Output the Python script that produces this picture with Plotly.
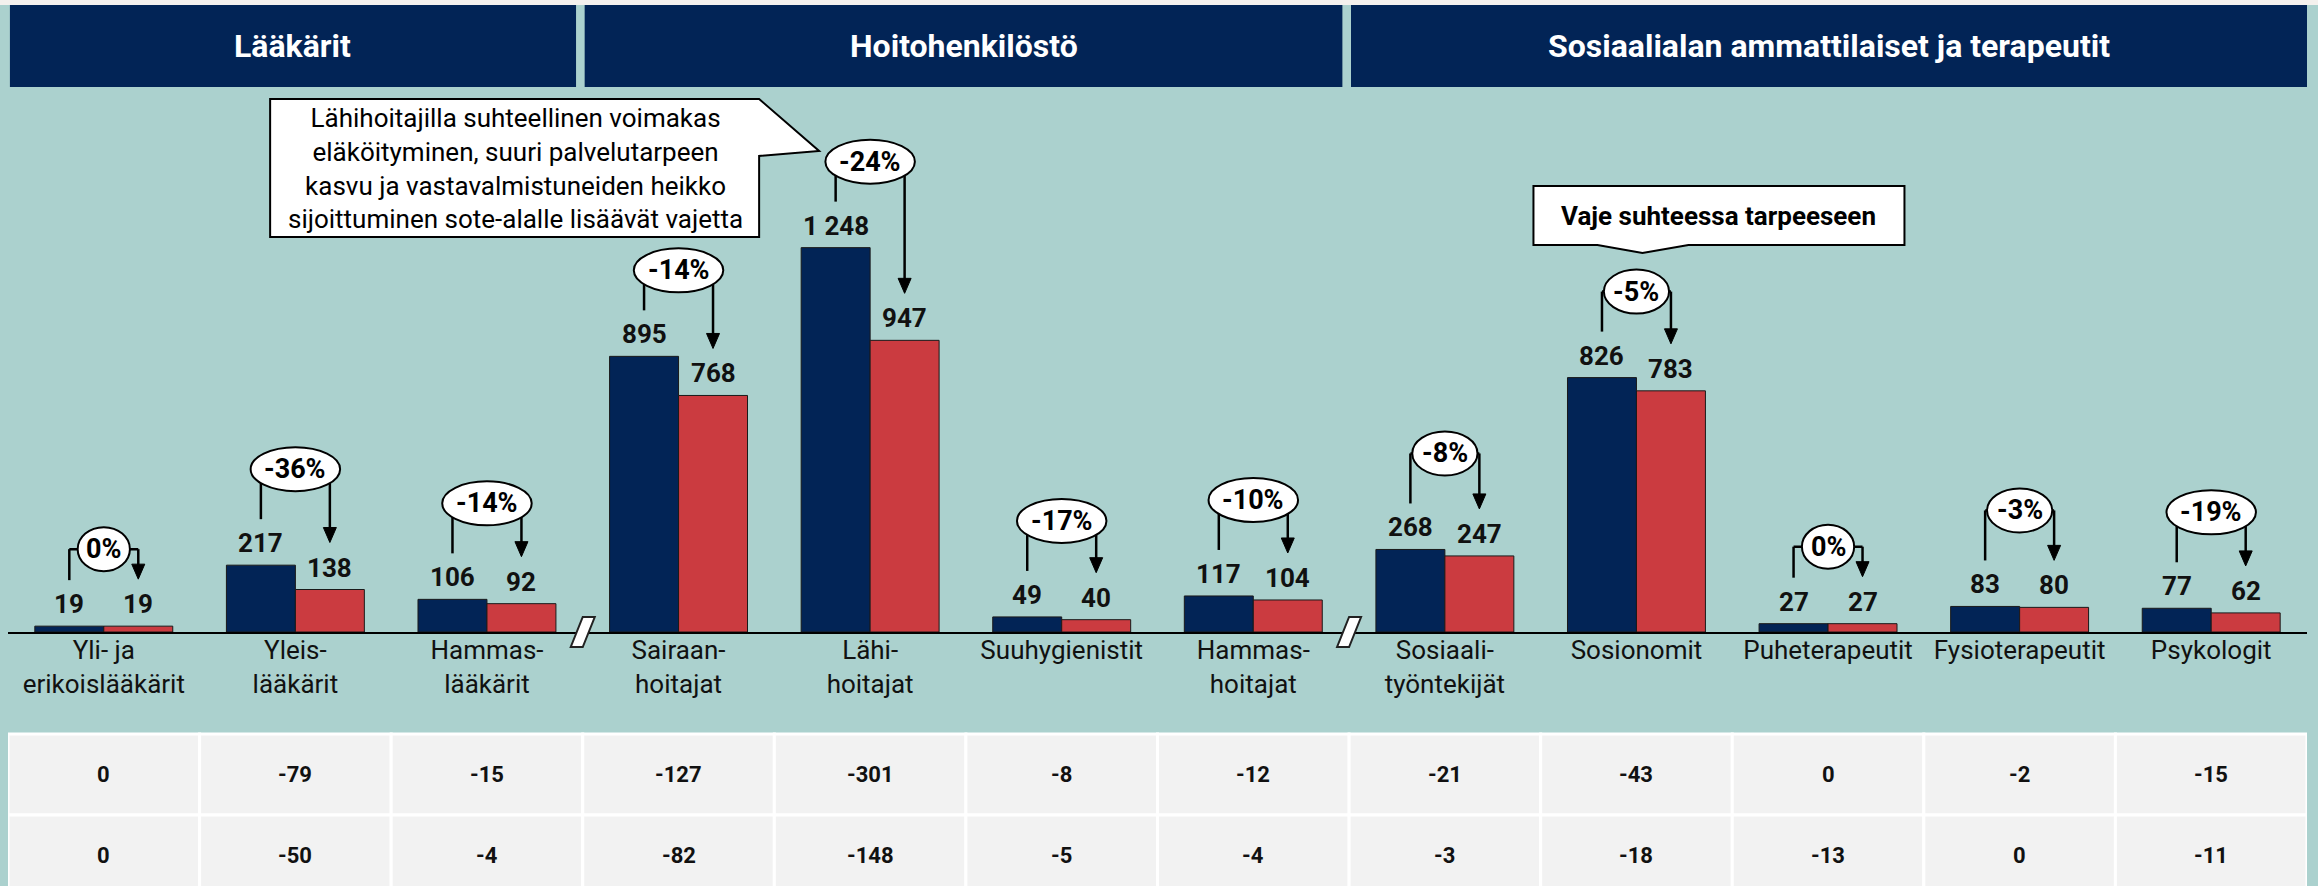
import plotly.graph_objects as go

# ---------------- data ----------------
categories = ["Yli- ja<br>erikoislääkärit", "Yleis-<br>lääkärit", "Hammas-<br>lääkärit",
              "Sairaan-<br>hoitajat", "Lähi-<br>hoitajat", "Suuhygienistit", "Hammas-<br>hoitajat",
              "Sosiaali-<br>työntekijät", "Sosionomit", "Puheterapeutit", "Fysioterapeutit", "Psykologit"]
values_blue = [19, 217, 106, 895, 1248, 49, 117, 268, 826, 27, 83, 77]
values_red = [19, 138, 92, 768, 947, 40, 104, 247, 783, 27, 80, 62]
pct_labels = ["0%", "-36%", "-14%", "-14%", "-24%", "-17%", "-10%", "-8%", "-5%", "0%", "-3%", "-19%"]
table_row1 = [0, -79, -15, -127, -301, -8, -12, -21, -43, 0, -2, -15]
table_row2 = [0, -50, -4, -82, -148, -5, -4, -3, -18, -13, 0, -11]
group_names = ["Lääkärit", "Hoitohenkilöstö", "Sosiaalialan ammattilaiset ja terapeutit"]
group_first = [0, 3, 7]
group_last = [2, 6, 11]
callout_main = ("Lähihoitajilla suhteellinen voimakas<br>eläköityminen, suuri palvelutarpeen<br>"
                "kasvu ja vastavalmistuneiden heikko<br>sijoittuminen sote-alalle lisäävät vajetta")
callout_main_idx = 4
callout_gap = "Vaje suhteessa tarpeeseen"
callout_gap_idx = 8

# ---------------- layout constants ----------------
W, H = 2318, 886
XL, XR = 8, 2307
BASE = 632
YMAX = 2052
n = len(categories)
PXX = (XR - XL) / n
PXY = BASE / YMAX
BAR_OFF = 0.18

NAVY = "#022456"
RED = "#cb3b40"
BG = "#abd1ce"
FONT = "Roboto"


def py(p):
    return 1 - p / H


fig = go.Figure()
xs = list(range(n))
fmt = lambda v: f"{v:,}".replace(",", " ")
for vals, col in ((values_blue, NAVY), (values_red, RED)):
    fig.add_bar(x=xs, y=vals, marker=dict(color=col, line=dict(color="#1a1a1a", width=1)),
                hoverinfo="skip", showlegend=False)

shapes = []
annotations = []

# value labels above bars
for vals, off in ((values_blue, -BAR_OFF), (values_red, BAR_OFF)):
    for i, v in enumerate(vals):
        annotations.append(dict(x=i + off, y=v, xref="x", yref="y", text=fmt(v), showarrow=False,
                                xanchor="center", yanchor="bottom", yshift=5,
                                font=dict(family=FONT, size=26, color="#111111", weight="bold")))

# top strip
shapes.append(dict(type="rect", xref="paper", yref="paper", x0=0, x1=1, y0=py(5), y1=1,
                   fillcolor="#f4f1ee", line=dict(width=0), layer="below"))

# header boxes
for k, name in enumerate(group_names):
    a, b = group_first[k], group_last[k]
    x0 = a - 0.5 + 0.01
    x1 = b + 0.5 - (0.035 if k < len(group_names) - 1 else 0)
    shapes.append(dict(type="rect", xref="x", yref="paper", x0=x0, x1=x1, y0=py(87), y1=py(5),
                       fillcolor=NAVY, line=dict(width=0), layer="above"))
    annotations.append(dict(x=(x0 + x1) / 2, y=py(46), xref="x", yref="paper", text=name,
                            showarrow=False, font=dict(family=FONT, size=32, color="white", weight="bold"),
                            xanchor="center", yanchor="middle"))

# brackets + percent ellipses
CW = {"-": 0.30, "%": 0.74}
for i in range(n):
    xb, xr = i - BAR_OFF, i + BAR_OFF
    b, r = values_blue[i], values_red[i]
    hb = 77 if pct_labels[i] == "0%" else (86 if b > 500 else 96)
    top = b + hb / PXY
    line = dict(color="black", width=2.5)
    shapes.append(dict(type="line", xref="x", yref="y", x0=xb, x1=xb, y0=b + 46 / PXY, y1=top,
                       line=line, layer="above"))
    shapes.append(dict(type="line", xref="x", yref="y", x0=xb, x1=xr, y0=top, y1=top,
                       line=line, layer="above"))
    shapes.append(dict(type="line", xref="x", yref="y", x0=xr, x1=xr, y0=top, y1=r + 60 / PXY,
                       line=line, layer="above"))
    shapes.append(dict(type="path", xref="x", yref="y", xsizemode="pixel", ysizemode="pixel",
                       xanchor=xr, yanchor=r, path="M -6.5,62 L 6.5,62 L 0,47 Z",
                       fillcolor="black", line=dict(color="black", width=1), layer="above"))
    tw = sum(CW.get(c, 0.562) for c in pct_labels[i]) * 27
    w = 1.6 * tw - 4
    shapes.append(dict(type="circle", xref="x", yref="y", xsizemode="pixel", ysizemode="pixel",
                       xanchor=i, yanchor=top, x0=-w / 2, x1=w / 2, y0=-22, y1=22,
                       fillcolor="white", line=dict(color="black", width=2), layer="above"))
    annotations.append(dict(x=i, y=top, xref="x", yref="y", text=pct_labels[i], showarrow=False,
                            font=dict(family=FONT, size=27, color="black", weight="bold"),
                            xanchor="center", yanchor="middle"))

# axis breaks between groups (paper-referenced in y so they are not clipped)
for b in group_last[:-1]:
    shapes.append(dict(type="path", xref="x", yref="paper", xsizemode="pixel", ysizemode="pixel",
                       xanchor=b + 0.5, yanchor=py(BASE), path="M -12,-15 L 0,-15 L 12,15 L 0,15 Z",
                       fillcolor="white", line=dict(color="#222222", width=2), layer="above"))

# table below
for rr, row in enumerate((table_row1, table_row2)):
    t = 734 + rr * 81
    bt = t + 81
    for i, v in enumerate(row):
        shapes.append(dict(type="rect", xref="x", yref="paper", x0=i - 0.5, x1=i + 0.5,
                           y0=py(bt), y1=py(t), fillcolor="#f2f2f2",
                           line=dict(color="white", width=3), layer="above"))
        annotations.append(dict(x=i, y=py((t + bt) / 2), xref="x", yref="paper", text=str(v),
                                showarrow=False, font=dict(family=FONT, size=22, color="#111111", weight="bold"),
                                xanchor="center", yanchor="middle"))

# callout boxes
shapes.append(dict(type="path", xref="x", yref="paper", xsizemode="pixel", ysizemode="pixel",
                   xanchor=callout_main_idx, yanchor=1,
                   path="M -600,-99 L -111,-99 L -51,-151 L -111,-156 L -111,-237 L -600,-237 Z",
                   fillcolor="white", line=dict(color="black", width=2), layer="above"))
annotations.append(dict(x=callout_main_idx, xshift=-355, y=py(168), xref="x", yref="paper",
                        text=callout_main, showarrow=False, align="center",
                        font=dict(family=FONT, size=26, color="black"),
                        xanchor="center", yanchor="middle"))
shapes.append(dict(type="path", xref="x", yref="paper", xsizemode="pixel", ysizemode="pixel",
                   xanchor=callout_gap_idx, yanchor=1,
                   path="M -103,-186 L 268,-186 L 268,-245 L 52,-245 L 6,-253 L -39,-245 L -103,-245 Z",
                   fillcolor="white", line=dict(color="black", width=2), layer="above"))
annotations.append(dict(x=callout_gap_idx, xshift=82, y=py(215.5), xref="x", yref="paper",
                        text=callout_gap, showarrow=False,
                        font=dict(family=FONT, size=26, color="black", weight="bold"),
                        xanchor="center", yanchor="middle"))

fig.update_layout(
    width=W, height=H, margin=dict(l=0, r=0, t=0, b=0),
    paper_bgcolor=BG, plot_bgcolor=BG,
    barmode="group", bargap=0.28, bargroupgap=0,
    font=dict(family=FONT, color="black"),
    shapes=shapes, annotations=annotations,
    xaxis=dict(domain=[XL / W, XR / W], range=[-0.5, n - 0.5], tickvals=xs, ticktext=categories,
               showline=True, linecolor="black", linewidth=2, ticks="", showgrid=False,
               zeroline=False, tickfont=dict(family=FONT, size=26, color="#111111"),
               ticklabelstandoff=-6, fixedrange=True),
    yaxis=dict(domain=[py(BASE), 1], range=[0, YMAX], visible=False, fixedrange=True),
)

fig.write_html("out.html", config={"displayModeBar": False},
               post_script="document.body.style.margin='0';document.body.style.overflow='hidden';")
